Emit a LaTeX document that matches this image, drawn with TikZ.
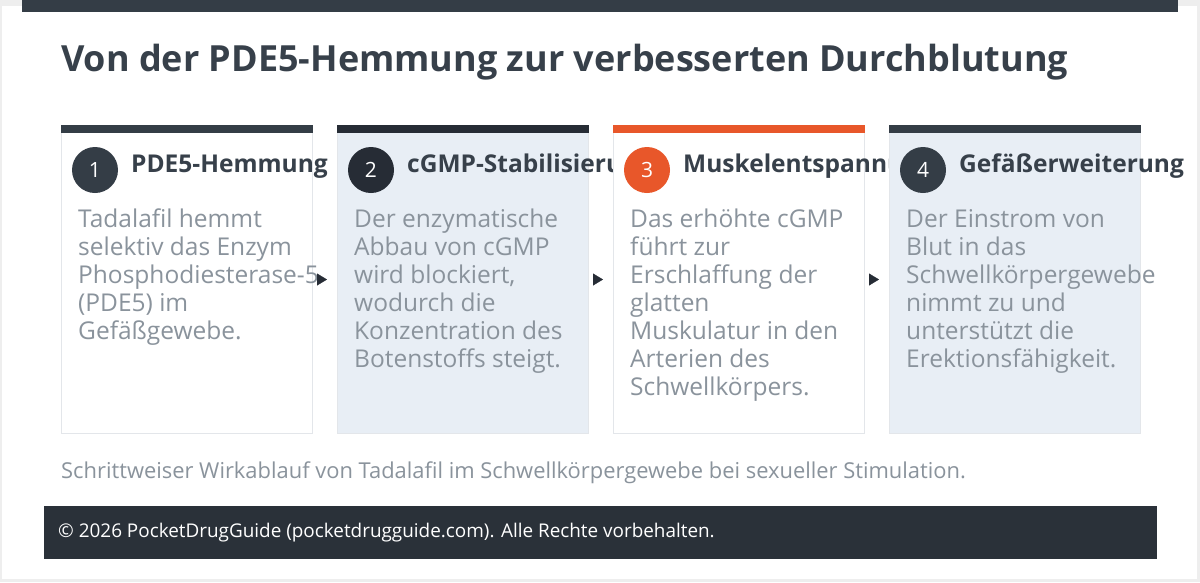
\documentclass[tikz,border=0pt]{standalone}
\usepackage{fontspec}
\setmainfont{Open Sans}
\usetikzlibrary{arrows.meta}
\definecolor{slate}{HTML}{343D46}
\definecolor{ink}{HTML}{262C35}
\definecolor{flame}{HTML}{E8572A}
\definecolor{mist}{HTML}{E8EEF5}
\definecolor{rim}{HTML}{E3E6EA}
\definecolor{titleink}{HTML}{37404A}
\definecolor{bodyink}{HTML}{8A939C}
\definecolor{footbg}{HTML}{2A3139}
\definecolor{pagebg}{HTML}{EEEEEE}
\tikzset{
  card/.style={draw=rim, line width=1pt, anchor=north west, minimum width=251pt, minimum height=308pt, inner sep=0pt},
  badge/.style={circle, minimum size=46pt, inner sep=0pt, text=white, font=\fontsize{21}{21}\selectfont},
  cardhead/.style={anchor=base west, inner sep=0pt, text=titleink, font=\bfseries\fontsize{24.5}{28}\selectfont},
  cardbody/.style={anchor=base west, inner sep=0pt, align=left, text=bodyink, font=\fontsize{24.5}{28}\selectfont},
  flow/.style={-{Triangle[length=10pt,width=12pt]}, draw=ink, fill=ink, shorten <=5pt, shorten >=10pt}
}
\begin{document}
\begin{tikzpicture}[x=1pt,y=-1pt]
\useasboundingbox (0,0) rectangle (1200,582);
\fill[pagebg] (0,0) rectangle (1200,582);
\fill[white] (2,6) rectangle (1197,579);
\fill[slate] (22,0) rectangle (1178,12);
\node[anchor=base west, inner sep=0pt, text=titleink, font=\bfseries\fontsize{36}{40}\selectfont] (title) at (61,71) {Von der PDE5-Hemmung zur verbesserten Durchblutung};

\node[card, fill=white] (c1) at (61,125) {};
\fill[slate] (c1.north west) rectangle ([yshift=-8pt]c1.north east);
\node[badge, fill=slate] (n1) at (95,170) {1};
\node[cardhead] (h1) at (131,172) {PDE5-Hemmung};
\node[cardbody] (b1) at (78,339) {Tadalafil hemmt\\selektiv das Enzym\\Phosphodiesterase-5\\(PDE5) im\\Gefäßgewebe.};

\node[card, fill=mist] (c2) at (337,125) {};
\fill[ink] (c2.north west) rectangle ([yshift=-8pt]c2.north east);
\node[badge, fill=ink] (n2) at (371,170) {2};
\node[cardhead] (h2) at (407,172) {cGMP-Stabilisierung};
\node[cardbody] (b2) at (354,367) {Der enzymatische\\Abbau von cGMP\\wird blockiert,\\wodurch die\\Konzentration des\\Botenstoffs steigt.};

\node[card, fill=white] (c3) at (613,125) {};
\fill[flame] (c3.north west) rectangle ([yshift=-8pt]c3.north east);
\node[badge, fill=flame] (n3) at (647,170) {3};
\node[cardhead] (h3) at (683,172) {Muskelentspannung};
\node[cardbody] (b3) at (630,395) {Das erhöhte cGMP\\führt zur\\Erschlaffung der\\glatten\\Muskulatur in den\\Arterien des\\Schwellkörpers.};

\node[card, fill=mist] (c4) at (889,125) {};
\fill[slate] (c4.north west) rectangle ([yshift=-8pt]c4.north east);
\node[badge, fill=slate] (n4) at (923,170) {4};
\node[cardhead] (h4) at (959,172) {Gefäßerweiterung};
\node[cardbody] (b4) at (906,367) {Der Einstrom von\\Blut in das\\Schwellkörpergewebe\\nimmt zu und\\unterstützt die\\Erektionsfähigkeit.};

\draw[flow] (c1.east) -- (c2.west);
\draw[flow] (c2.east) -- (c3.west);
\draw[flow] (c3.east) -- (c4.west);

\node[anchor=base west, inner sep=0pt, text=bodyink, font=\fontsize{21.9}{24}\selectfont] (caption) at (61,478) {Schrittweiser Wirkablauf von Tadalafil im Schwellkörpergewebe bei sexueller Stimulation.};
\node[fill=footbg, anchor=north west, minimum width=1113pt, minimum height=53pt, inner sep=0pt] (footer) at (44,506) {};
\node[anchor=west, inner sep=0pt, text=white, font=\fontsize{18.9}{22}\selectfont] (rights) at (58,533) {© 2026 PocketDrugGuide (pocketdrugguide.com). Alle Rechte vorbehalten.};
\end{tikzpicture}
\end{document}
